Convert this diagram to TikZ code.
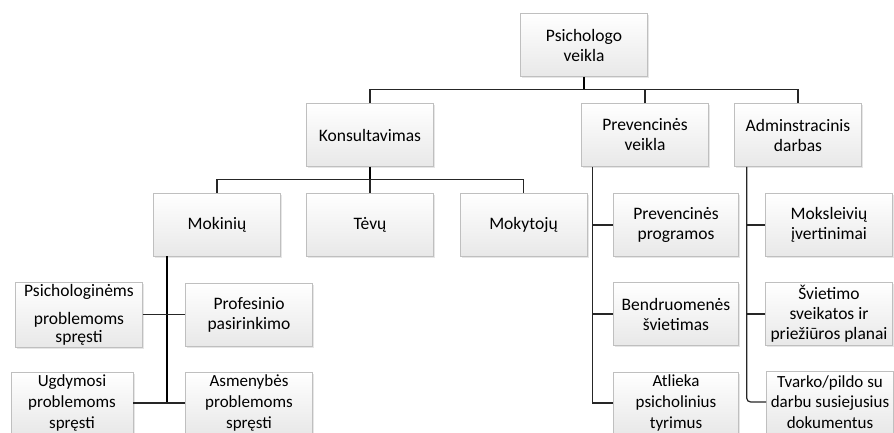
\documentclass[tikz,border=0pt]{standalone}
\usepackage{fontspec}
\setmainfont{Carlito}
\usetikzlibrary{shadows,calc}
\begin{document}
\begin{tikzpicture}[x=1pt,y=-1pt,
  box/.style={draw=black!25, line width=0.7pt, top color=white, bottom color=black!9,
    drop shadow={opacity=0.2, shadow xshift=1.5pt, shadow yshift=-1.5pt},
    minimum width=127pt, minimum height=63pt, inner sep=0pt, align=center,
    font=\fontsize{17.5}{20}\selectfont, text=black},
  tall/.style={minimum height=62pt, font=\fontsize{17}{21}\selectfont},
  link/.style={line width=1.2pt, draw=black!85},
  stem/.style={line width=1.9pt, draw=black}]
\useasboundingbox (0,0) rectangle (894,432);
\clip (0,0) rectangle (894,432);

% top level
\node[box] (psy) at (584,45) {Psichologo\\veikla};

% second level
\node[box] (kons) at (370,135) {Konsultavimas};
\node[box] (prev) at (645,135) {Prevencinės\\veikla};
\node[box] (adm) at (798,135) {Adminstracinis\\darbas};

% consultation targets
\node[box] (mok) at (217,224.5) {Mokinių};
\node[box] (tev) at (370,224.5) {Tėvų};
\node[box] (mkt) at (523.5,224.5) {Mokytojų};

% pupil topics
\node[box, minimum height=65pt, font=\fontsize{17.5}{23}\selectfont] (psl) at (79,314.5)
  {Psichologinėms\\[5pt]problemoms\\[-5pt]spręsti};
\node[box] (prof) at (249,314.5) {Profesinio\\pasirinkimo};
\node[box, tall, minimum width=122pt] (ugd) at (72,403) {Ugdymosi\\problemoms\\spręsti};
\node[box, tall] (asm) at (249,403) {Asmenybės\\problemoms\\spręsti};

% prevention
\node[box, minimum width=125pt] (pp) at (676,225) {Prevencinės\\programos};
\node[box, minimum width=125pt] (bs) at (676,314) {Bendruomenės\\švietimas};
\node[box, tall, minimum width=125pt] (atl) at (676,403) {Atlieka\\psicholinius\\tyrimus};

% administration
\node[box] (mks) at (829,225) {Moksleivių\\įvertinimai};
\node[box] (sv) at (829,314) {Švietimo\\sveikatos ir\\priežiūros planai};
\node[box, tall, font=\fontsize{17}{20.5}\selectfont] (tv) at (830,402)
  {Tvarko/pildo su\\darbu susiejusius\\dokumentus};

% connectors: top level
\coordinate (b1) at ($(psy.south)+(0,13)$);
\draw[stem] (psy.south) -- (b1);
\draw[link] (kons.north) |- (b1) -| (adm.north);
\draw[link] (prev.north) -- (prev.north |- b1);

% connectors: consultation
\coordinate (b2) at ($(kons.south)+(0,13)$);
\draw[stem] (kons.south) -- (b2);
\draw[link] (mok.north) |- (b2) -| (mkt.north);
\draw[link] (tev.north) -- (tev.north |- b2);

% connectors: pupils
\coordinate (t1) at ($(mok.south west)+(13.5,0)$);
\draw[stem] (t1) -- (t1 |- asm.west);
\draw[link] (psl.east) -- (prof.west);
\draw[link] (ugd.east) -- (asm.west);

% connectors: prevention
\coordinate (t2) at ($(prev.south west)+(11,0)$);
\draw[link] (t2) |- (atl.west);
\draw[link] (t2 |- pp.west) -- (pp.west);
\draw[link] (t2 |- bs.west) -- (bs.west);

% connectors: administration
\coordinate (t3) at ($(adm.south west)+(12.5,0)$);
\draw[link, rounded corners=4pt] (t3) |- (tv.west);
\draw[link] (t3 |- mks.west) -- (mks.west);
\draw[link] (t3 |- sv.west) -- (sv.west);
\end{tikzpicture}
\end{document}
